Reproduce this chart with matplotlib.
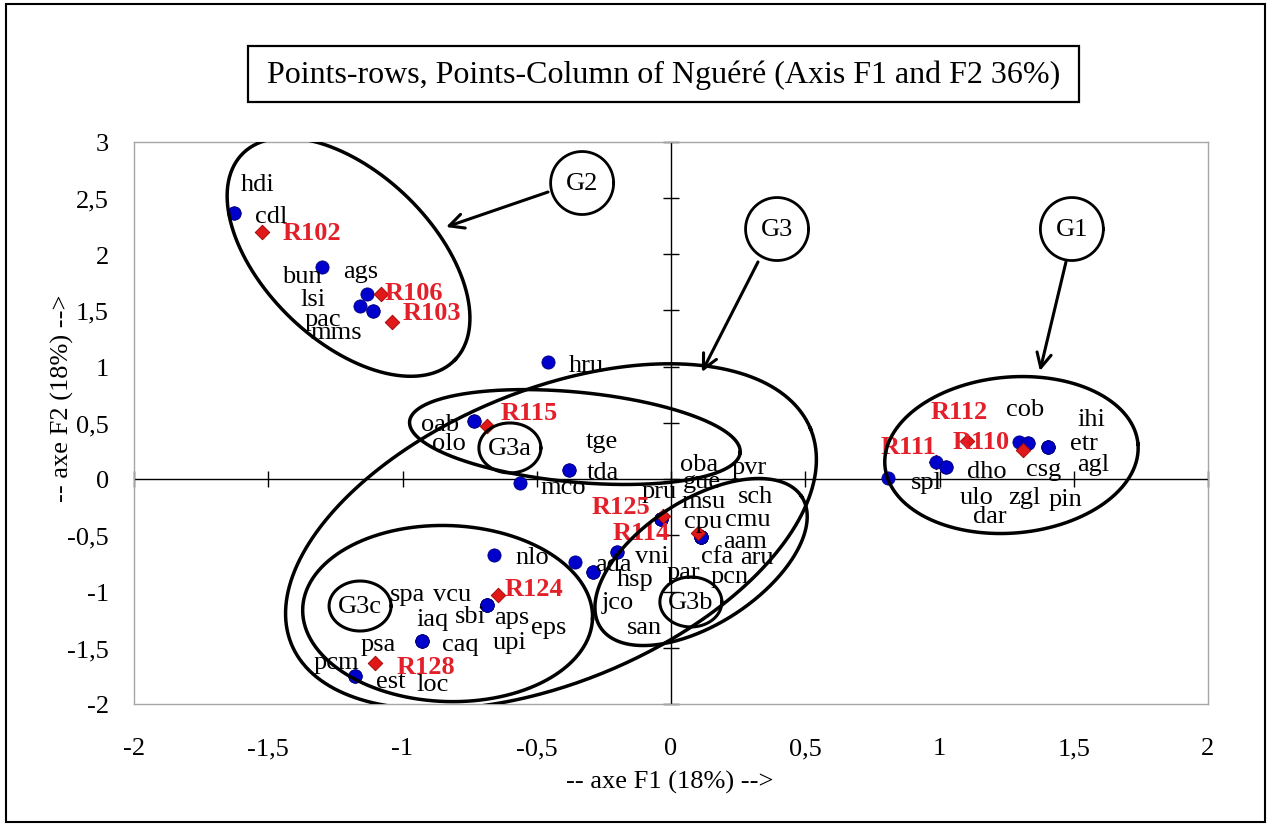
import numpy as np
import matplotlib
matplotlib.use("Agg")
import matplotlib.pyplot as plt
from matplotlib.patches import Rectangle

plt.rcParams['font.family'] = ['Liberation Serif', 'DejaVu Serif']

# column points (species), F1 / F2 coordinates
col_names = ['hdi', 'cdl', 'bun', 'ags', 'lsi', 'pac', 'mms',
             'hru', 'oab', 'olo', 'tge', 'tda', 'mco',
             'pru', 'gue', 'oba', 'pvr', 'msu',
             'sch', 'cpu', 'cmu', 'aam', 'cfa', 'aru', 'pcn',
             'vni', 'par', 'ada', 'hsp', 'jco', 'san',
             'nlo', 'sbi', 'aps', 'eps', 'upi', 'vcu',
             'spa', 'iaq', 'caq', 'psa', 'pcm', 'est', 'loc',
             'spl', 'ulo', 'dho', 'dar', 'cob', 'csg', 'zgl',
             'etr', 'ihi', 'agl', 'pin']
col_x = [-1.628, -1.628, -1.300, -1.132, -1.158, -1.110, -1.110,
         -0.458, -0.734, -0.734, -0.380, -0.380, -0.562,
         -0.037, -0.037, -0.037, -0.037, -0.037,
         0.112, 0.112, 0.112, 0.112, 0.112, 0.112, 0.112,
         -0.201, -0.201, -0.358, -0.291, -0.291, -0.291,
         -0.659, -0.685, -0.685, -0.685, -0.685, -0.685,
         -0.927, -0.927, -0.927, -0.927, -1.177, -1.177, -1.177,
         0.808, 0.987, 1.024, 1.024, 1.296, 1.330, 1.330,
         1.404, 1.404, 1.404, 1.404]
col_y = [2.364, 2.364, 1.884, 1.644, 1.538, 1.493, 1.493,
         1.040, 0.516, 0.516, 0.080, 0.080, -0.036,
         -0.356, -0.356, -0.356, -0.356, -0.356,
         -0.516, -0.516, -0.516, -0.516, -0.516, -0.516, -0.516,
         -0.649, -0.649, -0.738, -0.827, -0.827, -0.827,
         -0.676, -1.120, -1.120, -1.120, -1.120, -1.120,
         -1.440, -1.440, -1.440, -1.440, -1.751, -1.751, -1.751,
         0.009, 0.151, 0.107, 0.107, 0.329, 0.320, 0.320,
         0.284, 0.284, 0.284, 0.284]

# row points (relevés)
row_names = ['R102', 'R106', 'R103', 'R115', 'R125', 'R114',
             'R124', 'R128', 'R112', 'R110', 'R111']
row_x = [-1.523, -1.080, -1.039, -0.685, -0.030, 0.101,
         -0.644, -1.102, 1.102, 1.311, 0.987]
row_y = [2.196, 1.644, 1.396, 0.471, -0.329, -0.480,
         -1.031, -1.636, 0.338, 0.258, 0.151]

x_ticks = [-2, -1.5, -1, -0.5, 0, 0.5, 1, 1.5, 2]
x_tick_labels = ['-2', '-1,5', '-1', '-0,5', '0', '0,5', '1', '1,5', '2']
y_ticks = [-2, -1.5, -1, -0.5, 0, 0.5, 1, 1.5, 2, 2.5, 3]
y_tick_labels = ['-2', '-1,5', '-1', '-0,5', '0', '0,5', '1', '1,5', '2', '2,5', '3']

# label offsets in pixels (right, down)
col_offsets = {
    'hdi': (24, -29), 'cdl': (37, 3), 'bun': (-20, 9), 'ags': (-6, -23),
    'lsi': (-47, -7), 'pac': (-50, 8), 'mms': (-37, 21), 'hru': (38, 3),
    'oab': (-34, 3), 'olo': (-25, 22), 'tge': (33, -29), 'tda': (34, 2),
    'mco': (43, 4), 'pru': (-2, -28), 'gue': (41, -38), 'oba': (38, -55),
    'pvr': (88, -52), 'msu': (42, -18), 'sch': (54, -41), 'cpu': (2, -16),
    'cmu': (47, -18), 'aam': (44, 4), 'cfa': (16, 19), 'aru': (56, 20),
    'pcn': (29, 39), 'vni': (35, 4), 'par': (66, 20), 'ada': (38, 2),
    'hsp': (42, 7), 'jco': (25, 30), 'san': (52, 55), 'nlo': (38, 2),
    'sbi': (-17, 11), 'aps': (25, 12), 'eps': (62, 22), 'upi': (23, 37),
    'vcu': (-35, -11), 'spa': (-15, -47), 'iaq': (10, -22), 'caq': (38, 3),
    'psa': (-44, 3), 'pcm': (-19, -14), 'est': (36, 5), 'loc': (78, 8),
    'spl': (38, 4), 'ulo': (41, 35), 'dho': (41, 4), 'dar': (44, 49),
    'cob': (6, -33), 'csg': (16, 26), 'zgl': (-4, 54), 'etr': (36, -4),
    'ihi': (43, -28), 'agl': (45, 17), 'pin': (17, 52),
}
row_offsets = {
    'R102': (50, 1), 'R106': (33, -2), 'R103': (40, -9), 'R115': (42, -14),
    'R125': (-42, -10), 'R114': (-57, -1), 'R124': (36, -6), 'R128': (51, 3),
    'R112': (-8, -29), 'R110': (-42, -8), 'R111': (-28, -16),
}
rows_hidden = ['R111']

# group outlines: centre (data), half axes (px), angle (deg)
groups = [
    (-1.201, 1.973, 148, 84, -44),
    (-0.447, -0.511, 281, 146, 22.6),
    (-0.358, 0.373, 166, 45, -5.4),
    (0.112, -0.738, 120, 62, 33),
    (-0.832, -1.196, 145, 88, -2),
    (1.268, 0.213, 127, 78, 5),
]
subgroups = [('G3a', -0.600, 0.276), ('G3b', 0.074, -1.093), ('G3c', -1.158, -1.129)]
tags = [('G2', -0.331, 2.631), ('G3', 0.395, 2.222), ('G1', 1.493, 2.222)]
arrows = [((-0.458, 2.551), (-0.838, 2.240)),
          ((0.324, 1.929), (0.115, 0.951)),
          ((1.471, 1.929), (1.374, 0.960))]

W, H = 1271, 828
fig = plt.figure(figsize=(W / 100, H / 100), dpi=100)
ax = fig.add_axes([134 / W, (H - 705) / H, 1074 / W, 562.5 / H])
ax.set_xlim(-2, 2)
ax.set_ylim(-2, 3)

bb = ax.get_window_extent()
kx = bb.width / 4.0
ky = bb.height / 5.0


def ring(cx, cy, a, b, ang, lw, z=6):
    t = np.linspace(0, 2 * np.pi, 400)
    r = np.radians(ang)
    u = a * np.cos(t) * np.cos(r) - b * np.sin(t) * np.sin(r)
    v = a * np.cos(t) * np.sin(r) + b * np.sin(t) * np.cos(r)
    ax.plot(cx + u / kx, cy + v / ky, color='black', lw=lw, zorder=z)


# zero axes with crossing ticks
ax.axhline(0, color='black', lw=1, zorder=1)
ax.axvline(0, color='black', lw=1, zorder=1)
ax.plot(x_ticks, [0] * len(x_ticks), ls='none', marker='|', ms=11, mew=1,
        color='black', zorder=1, clip_on=False)
ax.plot([0] * len(y_ticks), y_ticks, ls='none', marker='_', ms=11, mew=1,
        color='black', zorder=1, clip_on=False)

# points
hid = [i for i, n in enumerate(row_names) if n in rows_hidden]
vis = [i for i, n in enumerate(row_names) if n not in rows_hidden]
ax.scatter([row_x[i] for i in hid], [row_y[i] for i in hid], marker='D', s=55,
           color='#e01818', edgecolors='#9a0000', linewidths=0.6, zorder=2)
ax.scatter(col_x, col_y, marker='o', s=90, color='#0000cc',
           edgecolors='#000080', linewidths=0.6, zorder=3)
ax.scatter([row_x[i] for i in vis], [row_y[i] for i in vis], marker='D', s=55,
           color='#e01818', edgecolors='#9a0000', linewidths=0.6, zorder=4)

for n, x, y in zip(col_names, col_x, col_y):
    dx, dy = col_offsets[n]
    ax.annotate(n, (x, y), xytext=(dx, -dy), textcoords='offset pixels',
                ha='center', va='center', fontsize=19, color='black', zorder=5)
for n, x, y in zip(row_names, row_x, row_y):
    dx, dy = row_offsets[n]
    ax.annotate(n, (x, y), xytext=(dx, -dy), textcoords='offset pixels',
                ha='center', va='center', fontsize=19, fontweight='bold',
                color='#e3202a', zorder=5)

# groups
for cx, cy, a, b, ang in groups:
    ring(cx, cy, a, b, ang, 2.5)
for name, cx, cy in subgroups:
    ring(cx, cy, 31, 25, 0, 2.2)
    ax.text(cx, cy, name, ha='center', va='center', fontsize=19, zorder=7)
for name, cx, cy in tags:
    ring(cx, cy, 31.5, 31.5, 0, 2.0)
    ax.text(cx, cy, name, ha='center', va='center', fontsize=19, zorder=7)
for start, end in arrows:
    ax.annotate('', xy=end, xytext=start,
                arrowprops=dict(arrowstyle='->', lw=2.2, color='black',
                                mutation_scale=26, shrinkA=0, shrinkB=0),
                zorder=7)

ax.set_xticks(x_ticks)
ax.set_xticklabels(x_tick_labels)
ax.set_yticks(y_ticks)
ax.set_yticklabels(y_tick_labels)
ax.tick_params(length=0, labelsize=19)
ax.tick_params(axis='x', pad=24)
ax.tick_params(axis='y', pad=18)
for s in ax.spines.values():
    s.set_color('#a6a6a6')
    s.set_linewidth(1)

fig.text(670 / W, (H - 782) / H, '-- axe F1 (18%) -->', ha='center', va='center',
         fontsize=19)
fig.text(62 / W, (H - 398) / H, '-- axe F2 (18%) -->', ha='center', va='center',
         fontsize=19, rotation=90)

# title box and outer frame
fig.patches.append(Rectangle((248 / W, (H - 103) / H), 831 / W, 56 / H,
                             transform=fig.transFigure, fill=False,
                             ec='black', lw=1.6))
fig.text(663.5 / W, (H - 75) / H,
         'Points-rows, Points-Column of Nguéré (Axis F1 and F2 36%)',
         ha='center', va='center', fontsize=23)
fig.patches.append(Rectangle((6 / W, 5 / H), 1259 / W, 818 / H,
                             transform=fig.transFigure, fill=False,
                             ec='black', lw=1.5))

ax.set_xlim(-2, 2)
ax.set_ylim(-2, 3)
fig.savefig('out.png', dpi=100)
